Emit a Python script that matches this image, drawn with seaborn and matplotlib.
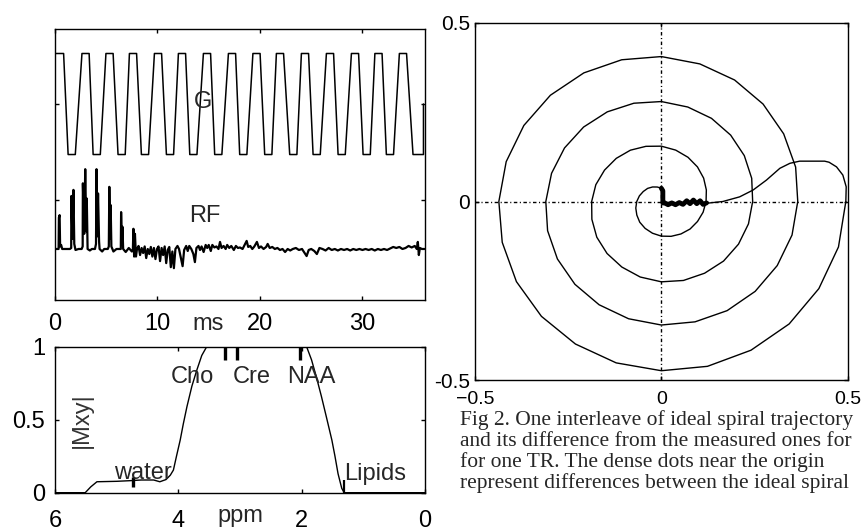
import matplotlib
matplotlib.use("Agg")
import matplotlib.pyplot as plt
import matplotlib.transforms as mtransforms
import numpy as np
import seaborn as sns

# ---------------------------------------------------------------- data
# gradient waveform G: centres of the flat tops / bottoms (ms)
g_peak_ms = [0.49, 2.98, 5.32, 7.61, 10.05, 12.39, 14.83, 17.27, 19.66,
             21.95, 24.39, 26.83, 29.27, 31.56, 33.95]
g_trough_ms = [1.63, 4.07, 6.50, 8.78, 11.22, 13.50, 15.93, 18.37, 20.81,
               23.25, 25.53, 27.97, 30.41, 32.68, 35.28]
g_high, g_low = 1.0, -1.0
g_end_ms = 35.95

# RF pulse (ms, amplitude in G units)
rf_points = [
    (0.0, 0.0), (0.35, 0.0), (0.38, 0.62), (0.45, 0.67), (0.5, 0.05), (0.6, 0.08), (0.7, 0.0),
    (1.45, 0.0), (1.58, 0.02), (1.6, 1.05), (1.7, 0.2), (1.8, 1.17), (1.88, 0.1), (2.0, -0.02), (2.3, 0.0),
    (2.6, 0.0), (2.7, 0.05), (2.72, 1.3), (2.85, 0.3), (2.95, 1.58), (3.05, 0.35), (3.1, 1.0),
    (3.18, 0.0), (3.4, -0.03), (3.6, 0.0),
    (3.9, 0.0), (4.0, 0.1), (4.05, 1.58), (4.12, 0.25), (4.2, 1.1), (4.3, 0.15), (4.35, 0.0),
    (4.6, -0.05), (4.8, 0.0),
    (5.15, 0.0), (5.25, 0.05), (5.3, 1.23), (5.38, 0.2), (5.43, 0.87), (5.5, 0.05), (5.7, -0.05), (6.0, 0.0),
    (6.3, 0.0), (6.42, 0.0), (6.45, 0.73), (6.52, 0.1), (6.58, 0.44), (6.65, 0.0), (6.9, -0.06),
    (7.2, 0.02), (7.5, -0.05),
    (7.6, 0.0), (7.65, 0.4), (7.72, -0.15), (7.8, 0.3), (7.9, -0.15),
    (8.0, 0.0), (8.15, 0.06), (8.3, -0.12), (8.45, 0.02), (8.6, -0.08), (8.75, 0.05), (8.9, -0.18),
    (9.05, 0.0), (9.2, -0.1), (9.35, 0.04), (9.5, -0.15), (9.65, 0.02), (9.8, -0.2), (9.95, 0.0),
    (10.1, 0.05), (10.25, -0.24), (10.4, 0.02), (10.55, -0.12), (10.7, 0.05), (10.85, -0.28),
    (11.0, -0.02), (11.15, 0.04), (11.3, -0.36), (11.45, -0.05), (11.6, -0.38), (11.75, 0.0),
    (11.95, 0.06), (12.1, 0.0), (12.3, -0.2), (12.45, -0.34), (12.6, -0.02), (12.8, 0.06),
    (12.95, -0.04), (13.1, 0.06), (13.3, 0.0), (13.5, -0.1), (13.65, -0.26), (13.8, 0.02),
    (14.0, 0.06), (14.15, -0.02), (14.3, 0.05), (14.5, -0.06), (14.7, 0.08), (14.85, 0.02),
    (15.0, 0.08), (15.2, -0.04), (15.35, 0.08), (15.55, 0.03), (15.75, 0.05), (15.95, 0.0),
    (16.1, 0.14), (16.25, 0.02), (16.45, 0.06), (16.65, 0.0), (16.8, 0.08), (17.0, 0.02),
    (17.2, 0.06), (17.45, -0.02), (17.65, 0.06), (17.85, 0.02), (18.05, 0.03), (18.3, 0.0),
    (18.5, 0.08), (18.7, 0.16), (18.85, 0.04), (19.05, 0.06), (19.25, 0.0), (19.45, 0.05),
    (19.7, 0.14), (19.9, 0.02), (20.1, 0.05), (20.35, 0.0), (20.6, 0.04), (20.75, 0.1),
    (20.95, 0.02), (21.2, 0.04), (21.45, 0.0), (21.7, 0.02), (21.95, -0.02), (22.2, 0.0),
    (22.45, -0.06), (22.7, 0.0), (22.95, -0.03), (23.2, 0.0), (23.5, 0.02), (23.8, -0.02),
    (24.1, 0.0), (24.35, -0.08), (24.55, -0.14), (24.75, -0.02), (25.0, 0.0), (25.3, -0.04),
    (25.55, -0.1), (25.8, 0.02), (26.1, 0.0), (26.4, -0.03), (26.7, 0.02), (27.0, -0.02),
    (27.3, 0.0), (27.6, -0.03), (27.9, 0.0), (28.2, -0.02), (28.5, 0.0), (28.8, -0.03),
    (29.1, 0.0), (29.4, -0.02), (29.7, 0.0), (30.0, -0.02), (30.3, 0.0), (30.6, -0.02),
    (30.9, 0.0), (31.2, -0.03), (31.5, 0.0), (31.8, -0.02), (32.1, 0.0), (32.4, -0.02),
    (32.7, 0.01), (33.0, 0.04), (33.3, 0.02), (33.6, 0.04), (33.9, 0.0), (34.2, 0.02),
    (34.5, 0.06), (34.8, 0.03), (35.1, 0.06), (35.3, 0.0), (35.4, 0.14), (35.5, -0.12),
    (35.6, 0.02), (35.8, 0.0), (36.05, 0.0),
]

# spectral profile |Mxy| vs ppm
mxy_points = [
    (6.0, 0.0), (5.51, 0.0), (5.42, 0.04), (5.32, 0.075), (5.0, 0.078), (4.8, 0.082),
    (4.6, 0.087), (4.4, 0.087), (4.3, 0.075), (4.2, 0.09), (4.13, 0.12), (4.08, 0.155),
    (4.03, 0.25), (3.97, 0.36), (3.92, 0.47), (3.86, 0.59), (3.78, 0.73), (3.70, 0.84),
    (3.62, 0.94), (3.54, 1.0), (3.45, 1.04), (2.0, 1.04), (1.92, 1.0), (1.84, 0.91),
    (1.76, 0.79), (1.68, 0.66), (1.60, 0.52), (1.51, 0.36), (1.46, 0.25), (1.41, 0.13),
    (1.35, 0.03), (1.31, 0.0), (0.0, 0.0),
]
metab_ppm = [4.73, 3.24, 3.05, 2.03, 1.32]
metab_lo = [0.04, 0.91, 0.91, 0.91, 0.0]
metab_hi = [0.11, 1.0, 1.0, 1.0, 0.087]
label_text = ["water", "Cho", "Cre", "NAA", "Lipids"]
label_ppm = [4.57, 3.77, 2.81, 1.85, 0.81]
label_base = [0.094, 0.749, 0.749, 0.749, 0.087]

# k-space spiral: radius read every 15 deg, from 90 deg (start) to 1440 deg
spiral_deg = np.arange(90, 1440.1, 15)
spiral_r = [
    0.037, 0.042, 0.047, 0.052, 0.056, 0.061,
    0.066, 0.071, 0.076, 0.082, 0.087, 0.092,
    0.097, 0.101, 0.105, 0.109, 0.112, 0.116,
    0.120, 0.125, 0.131, 0.137, 0.143, 0.149,
    0.155, 0.160, 0.166, 0.171, 0.176, 0.182,
    0.187, 0.193, 0.200, 0.206, 0.212, 0.219,
    0.225, 0.229, 0.232, 0.236, 0.239, 0.242,
    0.245, 0.251, 0.257, 0.263, 0.269, 0.274,
    0.280, 0.285, 0.290, 0.295, 0.300, 0.305,
    0.310, 0.316, 0.322, 0.328, 0.334, 0.340,
    0.346, 0.349, 0.353, 0.356, 0.359, 0.363,
    0.366, 0.373, 0.379, 0.386, 0.393, 0.399,
    0.406, 0.411, 0.416, 0.421, 0.426, 0.431,
    0.436, 0.442, 0.449, 0.455, 0.461, 0.468,
    0.474, 0.478, 0.481, 0.485, 0.488, 0.492,
    0.495,
]
rewind_x = [0.495, 0.496, 0.487, 0.470, 0.450, 0.438, 0.371, 0.345, 0.318,
            0.282, 0.246, 0.210, 0.165, 0.121]
rewind_y = [0.0, 0.041, 0.074, 0.097, 0.110, 0.113, 0.113, 0.107, 0.093,
            0.060, 0.032, 0.013, 0.0, -0.005]
# measured - ideal differences, clustered near the origin
diff_x = [0.121, 0.112, 0.104, 0.095, 0.086, 0.077, 0.068, 0.058, 0.048,
          0.038, 0.028, 0.018, 0.009, 0.004, 0.004, 0.0]
diff_y = [-0.004, -0.008, 0.002, -0.006, 0.004, -0.006, 0.002, -0.008, -0.003,
          -0.009, -0.004, -0.009, -0.004, -0.004, 0.030, 0.037]

caption = [
    "Fig 2. One interleave of ideal spiral trajectory",
    "and its difference from the measured ones for",
    "for one TR. The dense dots near the origin",
    "represent differences between the ideal spiral",
]

# ---------------------------------------------------------------- style
sns.set_style("ticks")
plt.rcParams.update({
    "font.family": ["Liberation Sans", "DejaVu Sans"],
    "font.size": 17,
    "axes.linewidth": 1.0,
    "axes.edgecolor": "black",
    "xtick.direction": "in",
    "ytick.direction": "in",
    "xtick.top": True,
    "ytick.right": True,
    "xtick.major.size": 3,
    "ytick.major.size": 3,
    "xtick.major.width": 1.0,
    "ytick.major.width": 1.0,
    "xtick.color": "black",
    "ytick.color": "black",
})

W, H = 862, 532


def px_box(x0, y0, x1, y1):
    return [x0 / W, 1 - y1 / H, (x1 - x0) / W, (y1 - y0) / H]


fig = plt.figure(figsize=(W / 100, H / 100), dpi=100)
ax_t = fig.add_axes(px_box(55, 29, 425, 300))
ax_m = fig.add_axes(px_box(55, 346.7, 425, 492.7))
ax_k = fig.add_axes(px_box(475, 23, 847.7, 380))

# ---------------------------------------------------------------- G and RF
G_FLAT = 0.35  # half width of the flat tops
g_t, g_v = [0.0], [g_high]
for i, (pk, tr) in enumerate(zip(g_peak_ms, g_trough_ms)):
    if i > 0:
        g_t.append(pk - G_FLAT)
        g_v.append(g_high)
    g_t += [pk + G_FLAT, tr - G_FLAT, tr + G_FLAT]
    g_v += [g_high, g_low, g_low]
g_t += [g_end_ms, g_end_ms]
g_v += [g_low, 0.0]

RF_BASE = -2.87
rf_ms, rf_val = zip(*rf_points)
sns.lineplot(x=g_t, y=g_v, sort=False, estimator=None, color="black", lw=1.1, ax=ax_t)
sns.lineplot(x=list(rf_ms), y=np.array(rf_val) + RF_BASE, sort=False, estimator=None,
             color="black", lw=1.6, ax=ax_t)
ax_t.set_xlim(0, 36.1)
ax_t.set_ylim(-3.88, 1.485)
ax_t.set_xticks([0, 10, 20, 30])
ax_t.set_xticklabels(["0", "10", "20", "30"])
ax_t.set_yticks([0, -1.9])
ax_t.set_yticklabels([])
ax_t.tick_params(axis="x", pad=9.4)
ax_t.text(14.45, -0.085, "G", ha="center", va="baseline")
ax_t.text(14.6, RF_BASE + 0.54, "RF", ha="center", va="baseline")
trans_t = mtransforms.blended_transform_factory(ax_t.transData, ax_t.transAxes)
ax_t.text(14.9, -0.111, "ms", ha="center", va="baseline", transform=trans_t)

# ---------------------------------------------------------------- |Mxy|
m_ppm, m_val = zip(*mxy_points)
sns.lineplot(x=list(m_ppm), y=list(m_val), sort=False, estimator=None,
             color="black", lw=1.0, ax=ax_m)
for p, lo, hi, lab in zip(metab_ppm, metab_lo, metab_hi, label_text):
    ax_m.vlines(p, lo, hi, color="black", lw=1.6 if lab == "Lipids" else 2.4)
for txt, p, yb in zip(label_text, label_ppm, label_base):
    ax_m.text(p, yb, txt, ha="center", va="baseline")
ax_m.text(5.57, 0.5, "|Mxy|", rotation=90, ha="center", va="center", color="#333333")
ax_m.set_xlim(6, 0)
ax_m.set_ylim(0, 1)
ax_m.set_xticks([6, 4, 2, 0])
ax_m.set_xticklabels(["6", "4", "2", "0"])
ax_m.set_yticks([0, 0.5, 1])
ax_m.set_yticklabels(["0", "0.5", "1"])
ax_m.tick_params(axis="x", pad=12.5)
ax_m.tick_params(axis="y", pad=7)
trans_m = mtransforms.blended_transform_factory(ax_m.transData, ax_m.transAxes)
ax_m.text(3.0, -0.2, "ppm", ha="center", va="baseline", transform=trans_m)

# ---------------------------------------------------------------- spiral
theta = np.deg2rad(spiral_deg)
sp_x = np.array(spiral_r) * np.cos(theta)
sp_y = np.array(spiral_r) * np.sin(theta)
dashdot = (0, (2.5, 1.8, 0.8, 1.8))
ax_k.axhline(0, color="black", lw=1.0, linestyle=dashdot, zorder=1)
ax_k.axvline(0, color="black", lw=1.0, linestyle=dashdot, zorder=1)
sns.lineplot(x=sp_x, y=sp_y, sort=False, estimator=None, color="black", lw=1.0, ax=ax_k)
sns.lineplot(x=rewind_x, y=rewind_y, sort=False, estimator=None, color="black", lw=1.0, ax=ax_k)
sns.lineplot(x=diff_x, y=diff_y, sort=False, estimator=None, color="black", lw=3.5, ax=ax_k)
ax_k.set_xlim(-0.5, 0.5)
ax_k.set_ylim(-0.5, 0.5)
ax_k.set_xticks([-0.5, 0, 0.5])
ax_k.set_xticklabels(["\u22120.5", "0", "0.5"], fontsize=14)
ax_k.set_yticks([-0.5, 0, 0.5])
ax_k.set_yticklabels(["-0.5", "0", "0.5"], fontsize=15)
ax_k.tick_params(axis="x", pad=8)
ax_k.tick_params(axis="y", pad=3.6)

for ax in (ax_t, ax_m, ax_k):
    ax.set_xlabel("")
    ax.set_ylabel("")
    for s in ax.spines.values():
        s.set_visible(True)

# ---------------------------------------------------------------- caption
for i, line in enumerate(caption):
    fig.text(460 / W, 1 - (425 + 21 * i) / H, line, family=["Liberation Serif", "DejaVu Serif"],
             fontsize=15.5, ha="left", va="baseline")

fig.savefig("out.png", dpi=100)
